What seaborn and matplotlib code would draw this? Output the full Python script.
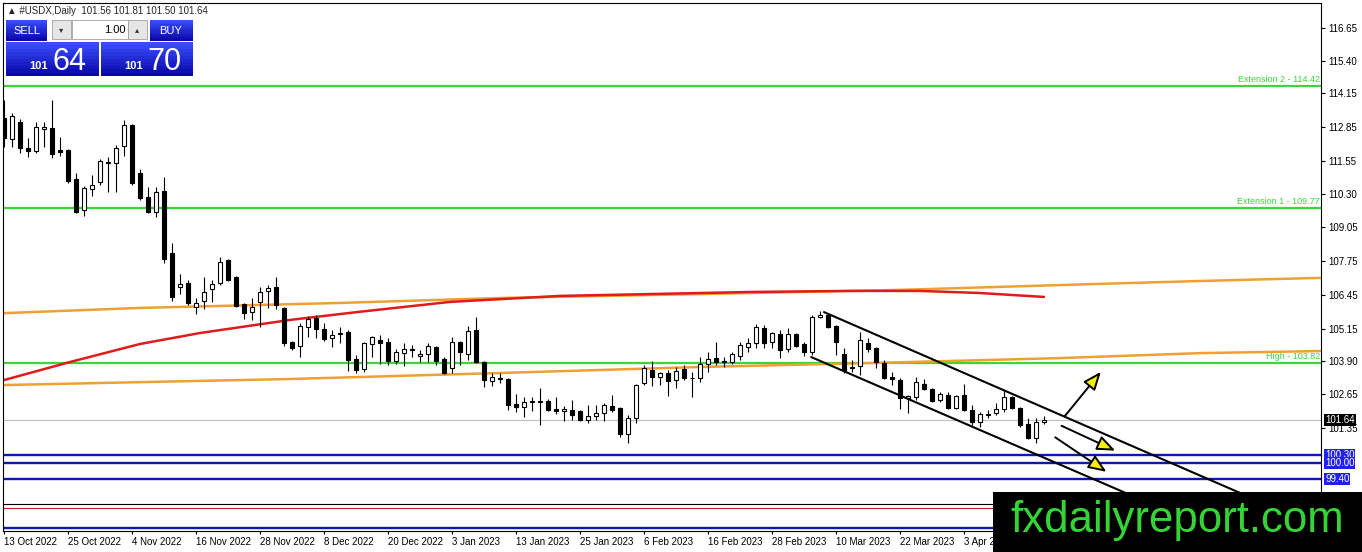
import numpy as np
import pandas as pd
import matplotlib
matplotlib.use("Agg")
import matplotlib.pyplot as plt
import seaborn as sns
from matplotlib.patches import Rectangle
from matplotlib.transforms import Bbox, TransformedBbox

# ---------------- data ----------------
symbol_title = "\u25b2 #USDX,Daily  101.56 101.81 101.50 101.64"

opens = [113.21,112.40,113.05,112.06,111.94,112.79,112.82,111.98,111.98,110.87,
         109.69,110.49,110.76,111.48,111.48,112.14,112.94,111.10,110.18,109.61,
         110.41,108.04,106.74,106.89,105.98,106.20,106.66,106.89,107.77,107.12,
         106.09,105.78,106.17,106.59,106.74,105.94,104.64,104.48,105.21,105.55,
         105.13,104.79,104.98,105.02,103.99,103.60,104.56,104.71,104.64,103.91,
         104.22,104.37,104.10,104.18,104.45,103.99,103.64,104.64,104.18,105.10,
         103.87,103.14,103.25,103.21,102.25,102.14,102.38,102.38,102.38,102.07,
         101.99,102.03,101.99,101.65,101.80,101.92,102.19,102.11,101.11,101.73,
         103.07,103.57,103.29,103.45,103.18,103.60,103.27,103.26,103.79,104.02,
         103.91,103.87,104.10,104.45,104.60,105.17,104.64,104.94,104.37,104.94,
         104.56,104.25,105.59,105.67,105.25,104.18,103.64,103.72,104.60,104.41,
         103.83,103.29,103.18,102.49,102.53,103.03,102.84,102.42,102.61,102.11,
         102.61,102.03,101.57,101.86,101.92,102.07,102.53,102.11,101.50,100.96,
         101.56]
highs = [113.90,113.40,113.17,112.44,113.05,113.05,113.90,112.48,112.02,111.10,
         110.60,111.02,111.64,111.71,112.17,113.13,112.98,111.25,110.57,110.57,
         110.95,108.42,107.24,107.01,106.32,107.12,107.01,107.89,107.81,107.16,
         106.13,106.32,106.74,106.82,107.12,105.98,104.67,105.36,105.63,105.67,
         105.36,105.10,105.21,105.10,104.14,104.64,104.86,104.90,104.79,104.37,
         104.60,104.52,104.33,104.60,104.47,104.06,104.83,104.67,105.25,105.59,
         103.91,103.45,103.45,103.25,102.63,102.53,102.53,102.88,102.46,102.53,
         102.19,102.42,102.03,102.22,102.22,102.30,102.61,102.15,101.84,103.03,
         103.76,103.91,103.49,103.57,103.68,103.76,103.49,104.06,104.25,104.64,
         104.06,104.25,104.64,104.79,105.32,105.29,105.02,105.10,105.17,104.98,
         104.64,105.67,105.82,105.74,105.29,104.41,103.95,105.02,104.79,104.45,
         103.95,103.49,103.26,102.61,103.29,103.22,102.88,102.72,102.72,102.61,
         103.03,102.23,101.96,102.03,102.30,102.80,102.57,102.15,101.73,101.73,
         101.81]
lows = [112.10,112.10,111.87,111.71,111.87,112.10,111.68,111.75,110.72,109.57,
        109.46,110.22,110.64,110.37,110.37,111.75,110.64,110.07,109.57,109.42,
        107.66,106.20,106.47,106.05,105.71,105.90,106.17,106.82,106.97,105.98,
        105.52,105.48,105.21,105.94,105.90,104.48,104.33,104.06,104.83,104.79,
        104.67,104.45,104.60,103.53,103.45,103.49,104.06,103.79,103.76,103.79,
        103.72,104.06,103.87,103.87,103.76,103.41,103.45,103.76,103.95,103.84,
        102.91,102.95,103.06,102.03,101.95,101.76,101.99,101.46,101.99,101.88,
        101.61,101.65,101.61,101.53,101.65,101.61,101.96,100.99,100.77,101.54,
        102.99,102.95,102.99,102.57,102.88,103.18,102.53,103.11,103.49,103.76,
        103.68,103.79,103.95,104.25,104.41,104.41,104.41,104.02,104.25,104.45,
        104.10,104.14,105.55,105.17,104.14,103.45,103.49,103.37,104.25,103.64,
        103.21,102.99,102.07,101.92,102.42,102.80,102.34,102.34,102.07,102.07,
        101.99,101.46,101.38,101.73,101.84,101.96,102.07,101.38,100.93,100.77,
        101.50]
closes = [112.44,113.28,112.06,111.94,112.86,112.86,111.83,111.91,110.80,109.61,
          110.53,110.64,111.56,111.52,112.06,112.94,110.72,110.15,109.61,110.37,
          107.81,106.36,106.86,106.13,106.13,106.55,106.86,107.70,107.01,106.01,
          105.75,105.98,106.55,106.70,106.05,104.60,104.41,105.25,105.52,105.13,
          104.75,104.90,104.94,103.95,103.56,104.60,104.83,104.60,103.91,104.25,
          104.37,104.33,104.18,104.48,103.91,103.45,104.64,104.25,105.06,103.87,
          103.18,103.29,103.21,102.23,102.14,102.34,102.34,102.34,102.03,101.99,
          102.07,101.84,101.65,101.80,101.92,102.22,102.03,101.11,101.73,102.99,
          103.64,103.29,103.45,103.14,103.53,103.26,103.25,103.79,103.99,103.87,
          103.87,104.18,104.52,104.60,105.21,104.60,104.98,104.33,104.94,104.48,
          104.25,105.59,105.67,105.21,104.64,103.56,103.68,104.71,104.37,103.87,
          103.26,103.21,102.49,102.57,103.11,102.84,102.38,102.65,102.11,102.57,
          102.03,101.57,101.88,101.88,102.07,102.53,102.11,101.46,100.96,101.57,
          101.64]

date_labels = ["13 Oct 2022", "25 Oct 2022", "4 Nov 2022", "16 Nov 2022", "28 Nov 2022",
               "8 Dec 2022", "20 Dec 2022", "3 Jan 2023", "13 Jan 2023", "25 Jan 2023",
               "6 Feb 2023", "16 Feb 2023", "28 Feb 2023", "10 Mar 2023", "22 Mar 2023",
               "3 Apr 2023"]
date_step = 8

price_ticks = [116.65, 115.40, 114.15, 112.85, 111.55, 110.30, 109.05,
               107.75, 106.45, 105.15, 103.90, 102.65, 101.35]

# moving average (red)
ma_bar = [0, 8.25, 17, 24.5, 35.75, 44.1, 55.75, 69.5, 80.75, 93.25, 105.75, 114.5, 122, 130]
ma_val = [103.18, 103.87, 104.56, 104.98, 105.48, 105.78, 106.17, 106.40, 106.47,
          106.55, 106.59, 106.59, 106.51, 106.36]
# orange lines
orange_up_bar = [0, 17, 42, 62, 87, 112, 137, 149.5, 164.6]
orange_up_val = [105.74, 105.94, 106.13, 106.32, 106.47, 106.63, 106.86, 106.97, 107.09]
orange_lo_bar = [0, 35.75, 62, 87, 109.5, 132, 149.5, 164.6]
orange_lo_val = [102.99, 103.22, 103.45, 103.68, 103.84, 104.02, 104.21, 104.29]

green_levels = [114.42, 109.77, 103.82]
green_labels = ["Extension 2 - 114.42", "Extension 1 - 109.77", "High - 103.82"]
blue_levels = [100.30, 100.00, 99.40, 97.52]
blue_tags = [100.30, 100.00, 99.40]
bid_price = 101.64
black_level = 98.44
red_level = 98.28

# descending channel
chan_up_bar = [102.5, 160]
chan_up_val = [105.78, 98.13]
chan_lo_bar = [100.9, 160]
chan_lo_val = [104.06, 96.24]

# arrows (start -> end)
arrow_x0 = [132.6, 132.2, 131.4]
arrow_y0 = [101.80, 101.43, 100.99]
arrow_x1 = [137.1, 138.9, 137.8]
arrow_y1 = [103.49, 100.48, 99.67]

watermark = "fxdailyreport.com"

# ---------------- style ----------------
sns.set_style("white")
plt.rcParams["font.family"] = ["Liberation Sans", "DejaVu Sans"]

W, H = 1362, 552
fig = plt.figure(figsize=(W / 100, H / 100), dpi=100)
fig.patch.set_facecolor("white")
ax = fig.add_axes([3 / W, (H - 531) / H, (1321 - 3) / W, (531 - 3) / H])
ax.set_facecolor("white")
ax.set_xlim(-0.125, 164.625)
ax.set_ylim(97.405, 117.606)

GREEN = "#3ad63a"
BLUE_LINE = "#0d1aa8"
ORANGE = "#f0a030"
RED = "#e01b1b"

# horizontal levels
for lv in green_levels:
    ax.axhline(lv, color=GREEN, lw=1.6, zorder=1)
for lv, lab in zip(green_levels, green_labels):
    ax.text(164.5, lv + 0.07, lab, ha="right", va="bottom", color=GREEN, fontsize=6.5, zorder=2)
for lv in blue_levels:
    ax.axhline(lv, color=BLUE_LINE, lw=1.7, zorder=1)
ax.axhline(bid_price, color="#c0c0c0", lw=0.8, zorder=1)
ax.axhline(black_level, color="black", lw=0.8, zorder=1)
ax.axhline(red_level, color="#d02020", lw=0.8, zorder=1)

# MA and orange lines
sns.lineplot(x=orange_up_bar, y=orange_up_val, color=ORANGE, lw=1.8, ax=ax, zorder=2)
sns.lineplot(x=orange_lo_bar, y=orange_lo_val, color=ORANGE, lw=1.8, ax=ax, zorder=2)
sns.lineplot(x=ma_bar, y=ma_val, color=RED, lw=1.8, ax=ax, zorder=2)

# candles
df = pd.DataFrame({"o": opens, "h": highs, "l": lows, "c": closes})
df["x"] = np.arange(len(df))
up = df["c"] >= df["o"]
ax.vlines(df["x"], df["l"], df["h"], color="black", lw=0.8, zorder=3)
bottom = np.minimum(df["o"], df["c"])
height = np.maximum((df["c"] - df["o"]).abs(), 0.012)
ax.bar(df["x"], height, bottom=bottom, width=0.5,
       color=np.where(up, "white", "black"), edgecolor="black", linewidth=0.8, zorder=4)

# channel
sns.lineplot(x=chan_up_bar, y=chan_up_val, color="black", lw=1.5, ax=ax, zorder=5)
sns.lineplot(x=chan_lo_bar, y=chan_lo_val, color="black", lw=1.5, ax=ax, zorder=5)

# arrows
for x0, y0, x1, y1 in zip(arrow_x0, arrow_y0, arrow_x1, arrow_y1):
    ax.annotate("", xy=(x1, y1), xytext=(x0, y0),
                arrowprops=dict(arrowstyle="-|>,head_length=1.1,head_width=0.45",
                                fc="#f5f000", ec="black", lw=1.4, shrinkA=0, shrinkB=0),
                zorder=6)

# axes / ticks
for s in ax.spines.values():
    s.set_color("black")
    s.set_linewidth(0.8)
ax.yaxis.tick_right()
ax.set_yticks(price_ticks)
ax.set_yticklabels([f"{v:.2f}" for v in price_ticks])
ax.set_xticks([i * date_step for i in range(len(date_labels))])
ax.set_xticklabels(date_labels)
clip_box = TransformedBbox(Bbox([[0, 0], [993 / W, 1]]), fig.transFigure)
for lab in ax.get_xticklabels():
    lab.set_ha("left")
    lab.set_clip_on(True)
    lab.set_clip_box(clip_box)
ax.tick_params(axis="y", which="both", right=True, left=False, direction="out",
               length=3, width=0.8, pad=2, labelsize=7, colors="black")
ax.tick_params(axis="x", which="both", bottom=True, direction="out",
               length=2.5, width=0.8, pad=1.5, labelsize=7, colors="black")
ax.set_xlabel("")
ax.set_ylabel("")
ax.grid(False)

# price tags
tag_tr = ax.get_yaxis_transform()
ax.text(1.0 + 4 / 1318, bid_price, f"{bid_price:.2f}", transform=tag_tr, ha="left", va="center",
        fontsize=7, color="white", clip_on=False, zorder=7,
        bbox=dict(boxstyle="square,pad=0.12", fc="black", ec="none"))
for v in blue_tags:
    ax.text(1.0 + 4 / 1318, v, f"{v:.2f}", transform=tag_tr, ha="left", va="center",
            fontsize=7, color="white", clip_on=False, zorder=7,
            bbox=dict(boxstyle="square,pad=0.1", fc="#2020f0", ec="none"))

# ---------------- figure overlays (pixel helpers) ----------------
def frect(x0, y0, x1, y1, fc, ec="none", lw=0.0, z=20):
    fig.add_artist(Rectangle((x0 / W, 1 - y1 / H), (x1 - x0) / W, (y1 - y0) / H,
                             transform=fig.transFigure, fc=fc, ec=ec, lw=lw, zorder=z))

def ftext(x, y, s, z=21, **kw):
    fig.text(x / W, 1 - y / H, s, zorder=z, **kw)

def blue_box(x0, y0, x1, y1):
    top = np.array([0.23, 0.30, 0.98])
    bot = np.array([0.03, 0.03, 0.66])
    n = 10
    hgt = (y1 - y0) / n
    for i in range(n):
        t = i / (n - 1)
        frect(x0, y0 + i * hgt, x1, y0 + (i + 1) * hgt + 0.3, tuple(top * (1 - t) + bot * t))

ftext(7, 11, symbol_title, fontsize=7, va="center", ha="left",
      family=["Liberation Sans", "DejaVu Sans"])

blue_box(6, 20, 47, 41)
blue_box(150, 20, 193, 41)
blue_box(6, 42, 99, 76)
blue_box(101, 42, 193, 76)
ftext(27, 31, "SELL", fontsize=8, color="white", ha="center", va="center")
ftext(171, 31, "BUY", fontsize=8, color="white", ha="center", va="center")
frect(52, 20, 71, 39, "#e6e6e6", ec="#a0a0a0", lw=0.6)
frect(72, 20, 128, 39, "white", ec="#a0a0a0", lw=0.6)
frect(128, 20, 147, 39, "#e6e6e6", ec="#a0a0a0", lw=0.6)
ftext(61.5, 30, "\u25be", fontsize=6, color="#333333", ha="center", va="center",
      family=["DejaVu Sans"])
ftext(137.5, 30, "\u25b4", fontsize=6, color="#333333", ha="center", va="center",
      family=["DejaVu Sans"])
ftext(126, 30, "1.00", fontsize=8, color="black", ha="right", va="center")
ftext(48, 69, "101", fontsize=8, fontweight="bold", color="white", ha="right", va="baseline")
ftext(52, 70, "64", fontsize=22, color="white", ha="left", va="baseline")
ftext(143, 69, "101", fontsize=8, fontweight="bold", color="white", ha="right", va="baseline")
ftext(147, 70, "70", fontsize=22, color="white", ha="left", va="baseline")

# watermark
frect(993, 492, W, H, "black", z=30)
ftext(1177, 532, watermark, z=31, fontsize=31.5, color="#35d435", ha="center", va="baseline")

fig.savefig("out.png", dpi=100, facecolor="white")
